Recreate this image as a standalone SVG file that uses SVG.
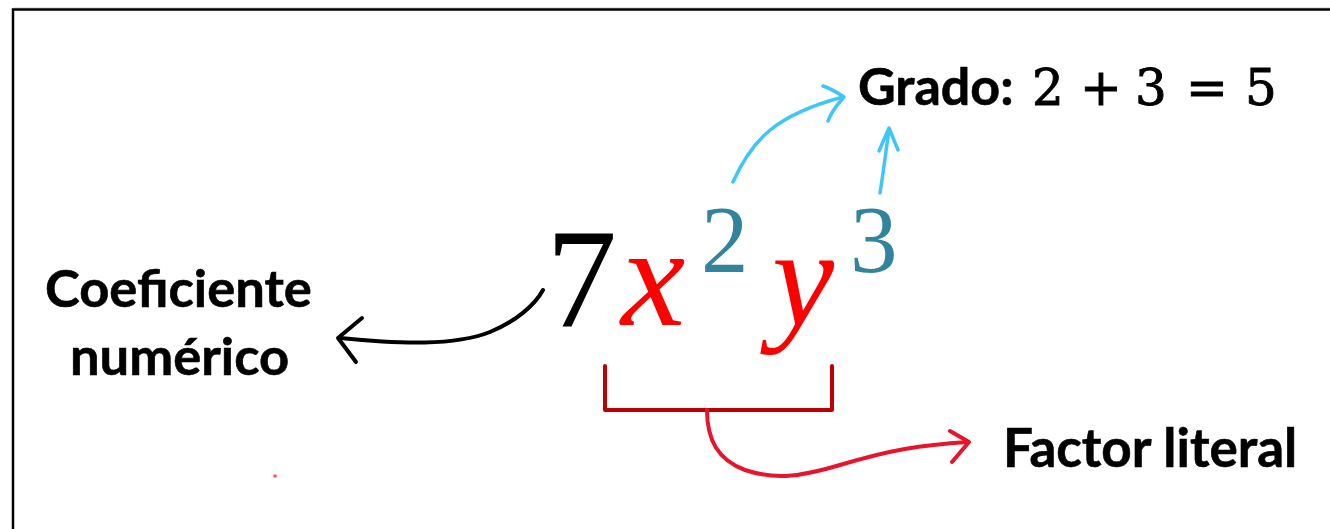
<svg xmlns="http://www.w3.org/2000/svg" width="1330" height="529" viewBox="0 0 1330 529">
<style>
.lbl{font-family:Lato,"Open Sans","Liberation Sans",sans-serif;font-weight:bold;fill:#000;stroke:#000;stroke-width:0.6}
.math{font-family:"Liberation Serif","DejaVu Serif",serif}
.dmath{font-family:"DejaVu Serif","Liberation Serif",serif;fill:#000;stroke:#000;stroke-width:0.9}
.it{font-style:italic;fill:#ff0000}
.sup{fill:#31849b}
.conn{fill:none;stroke-linecap:round;stroke-linejoin:round}
</style>
<rect width="1330" height="529" fill="#fff"/>
<g id="frame">
<line x1="13" y1="8" x2="1330" y2="8" stroke="#c8c8c8" stroke-width="1"/>
<path d="M13 529 V9.5 H1330" fill="none" stroke="#000" stroke-width="2.5"/>
</g>
<g id="term">
<text class="math" x="546" y="326" font-size="142">7</text>
<text class="math it" x="621" y="325" font-size="145">x</text>
<text class="math sup" x="701" y="272" font-size="95">2</text>
<text class="math it" x="772" y="325" font-size="140">y</text>
<text class="math sup" x="850" y="272" font-size="95">3</text>
</g>
<g id="grado">
<text class="lbl" x="858" y="105" font-size="52">Grado:</text>
<g class="dmath" font-size="50" text-anchor="middle">
<text x="1048" y="105">2</text>
<text x="1101" y="105">+</text>
<text x="1151" y="105">3</text>
<text x="1207" y="105">=</text>
<text x="1261" y="105">5</text>
</g>
</g>
<g id="coeficiente">
<text class="lbl" x="45" y="307" font-size="52.5">Coeficiente</text>
<text class="lbl" x="70" y="375" font-size="52.5">numérico</text>
</g>
<g id="factor">
<text class="lbl" x="1003" y="467" font-size="53">Factor literal</text>
</g>
<g id="connectors">
<path class="conn" stroke="#000" stroke-width="4" d="M543 290 C535 305 515 322 490 332 C455 346 400 344 340 338"/>
<path class="conn" stroke="#000" stroke-width="4" d="M362 318 L338 338 L356 362"/>
<path class="conn" stroke="#3ec7f5" stroke-width="3.5" d="M733 182 C752 140 775 115 843 97"/>
<path class="conn" stroke="#3ec7f5" stroke-width="3.5" d="M823 86 C832 89 838 93 844 97 C838 104 832 110 828 121"/>
<path class="conn" stroke="#3ec7f5" stroke-width="3.5" d="M880 193 C883 175 886 150 889 130"/>
<path class="conn" stroke="#3ec7f5" stroke-width="3.5" d="M879 151 L889 128 L898 150"/>
<path class="conn" stroke="#c00000" stroke-width="4" stroke-linecap="butt" d="M605 366 V410 H832 V366"/>
<path class="conn" stroke="#e8142b" stroke-width="4" d="M707 410 C707 440 718 460 745 470 C775 480 800 477 840 465 C890 450 920 445 968 442"/>
<path class="conn" stroke="#e8142b" stroke-width="4" d="M950 431 L969 442 L952 462"/>
<circle cx="275" cy="476" r="1.8" fill="#f55"/>
</g>
</svg>
